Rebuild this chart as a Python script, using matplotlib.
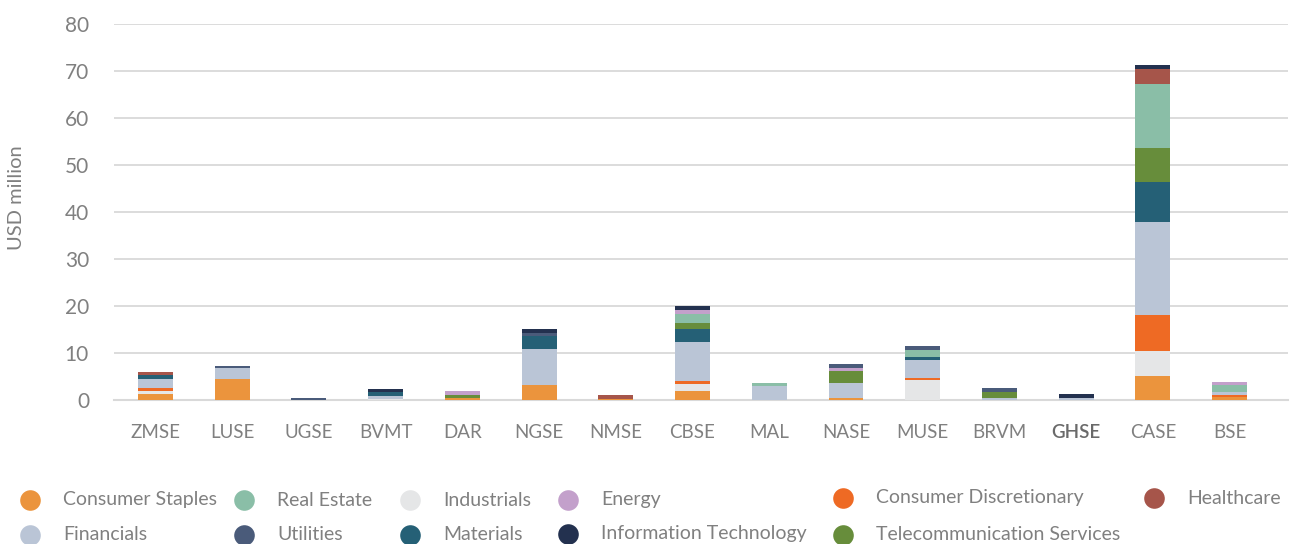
import matplotlib
matplotlib.use("Agg")
import matplotlib.pyplot as plt
import numpy as np

plt.rcParams['font.family'] = ['Lato', 'DejaVu Sans']

exchanges = ["ZMSE", "LUSE", "UGSE", "BVMT", "DAR", "NGSE", "NMSE", "CBSE",
             "MAL", "NASE", "MUSE", "BRVM", "GHSE", "CASE", "BSE"]

# values in USD million, stacked bottom-up in this order
consumer_staples       = [1.28, 4.47, 0.0, 0.0, 0.43, 3.19, 0.20, 1.90, 0.0, 0.43, 0.0, 0.0, 0.0, 5.11, 0.64]
industrials            = [0.64, 0.0, 0.0, 0.20, 0.0, 0.0, 0.0, 1.49, 0.0, 0.0, 4.26, 0.0, 0.0, 5.32, 0.0]
consumer_discretionary = [0.64, 0.0, 0.0, 0.0, 0.0, 0.0, 0.0, 0.64, 0.0, 0.0, 0.43, 0.0, 0.0, 7.66, 0.43]
financials             = [1.90, 2.34, 0.0, 0.65, 0.0, 7.66, 0.0, 8.30, 2.98, 3.19, 3.83, 0.45, 0.43, 19.79, 0.64]
materials              = [0.78, 0.0, 0.0, 0.85, 0.0, 2.77, 0.0, 2.77, 0.0, 0.0, 0.64, 0.0, 0.0, 8.51, 0.0]
telecom                = [0.0, 0.0, 0.0, 0.0, 0.64, 0.0, 0.0, 1.28, 0.0, 2.55, 0.0, 1.28, 0.0, 7.23, 0.0]
real_estate            = [0.0, 0.0, 0.0, 0.0, 0.0, 0.0, 0.0, 1.90, 0.64, 0.0, 1.49, 0.0, 0.0, 13.62, 1.49]
energy                 = [0.0, 0.0, 0.0, 0.0, 0.85, 0.0, 0.0, 0.85, 0.0, 0.64, 0.0, 0.0, 0.0, 0.0, 0.64]
utilities              = [0.0, 0.43, 0.43, 0.0, 0.0, 0.64, 0.0, 0.0, 0.0, 0.85, 0.85, 0.85, 0.0, 0.0, 0.0]
healthcare             = [0.70, 0.0, 0.0, 0.0, 0.0, 0.0, 0.85, 0.0, 0.0, 0.0, 0.0, 0.0, 0.0, 3.19, 0.0]
info_tech              = [0.0, 0.0, 0.0, 0.64, 0.0, 0.85, 0.0, 0.85, 0.0, 0.0, 0.0, 0.0, 0.85, 0.85, 0.0]

series = [
    ("Consumer Staples", consumer_staples, "#EB943D"),
    ("Industrials", industrials, "#E5E6E7"),
    ("Consumer Discretionary", consumer_discretionary, "#EE6A24"),
    ("Financials", financials, "#BAC5D6"),
    ("Materials", materials, "#256076"),
    ("Telecommunication Services", telecom, "#678D3B"),
    ("Real Estate", real_estate, "#8ABEA7"),
    ("Energy", energy, "#C3A0CB"),
    ("Utilities", utilities, "#4A5B7A"),
    ("Healthcare", healthcare, "#A6554A"),
    ("Information Technology", info_tech, "#23314F"),
]
colors = {name: c for name, _, c in series}

fig = plt.figure(figsize=(12.92, 5.44), dpi=100)
W, H = 1292, 544
ax = fig.add_axes([114 / W, (H - 400) / H, (1288 - 114) / W, (400 - 23.5) / H])

x = np.arange(len(exchanges))
bottom = np.zeros(len(exchanges))
for name, vals, col in series:
    v = np.array(vals)
    ax.bar(x, v, bottom=bottom, width=0.455, color=col, linewidth=0, zorder=3)
    bottom += v

ax.set_xlim(-0.54, 14.76)
ax.set_ylim(0, 80)
ax.set_yticks(np.arange(0, 81, 10))
ax.grid(axis='y', color='#D9D9D9', linewidth=1.3, zorder=0)
for s in ['top', 'right', 'left']:
    ax.spines[s].set_visible(False)
ax.spines['bottom'].set_color('#D9D9D9')
ax.spines['bottom'].set_linewidth(1.5)
ax.tick_params(axis='both', length=0, colors='#808080')
ax.tick_params(axis='y', labelsize=15, pad=18)
ax.tick_params(axis='x', labelsize=13.5, pad=17)
ax.set_xticks(x)
ax.set_xticklabels(exchanges)
for lbl in ax.get_xticklabels():
    if lbl.get_text() == "GHSE":
        lbl.set_color('#6A6A6A')
        lbl.set_fontweight('semibold')
fig.text(17 / W, (H - 198) / H, "USD million", rotation=90, va='center', ha='center',
         fontsize=14.5, color='#808080')

# legend
lax = fig.add_axes([0, 0, 1, 1], zorder=5)
lax.set_xlim(0, W)
lax.set_ylim(H, 0)
lax.axis('off')
legend_items = [
    ("Consumer Staples", 30, 500), ("Real Estate", 244, 500), ("Industrials", 410, 500),
    ("Energy", 568, 500), ("Consumer Discretionary", 843, 498), ("Healthcare", 1154, 498),
    ("Financials", 30, 535), ("Utilities", 244, 535), ("Materials", 410, 535),
    ("Information Technology", 568, 534), ("Telecommunication Services", 843, 535),
]
for name, mx, my in legend_items:
    lax.scatter([mx], [my], s=220, color=colors[name], linewidths=0)
    lax.text(mx + 33, my, name, va='center', ha='left', fontsize=14, color='#808080')

fig.savefig("out.png", dpi=100)
